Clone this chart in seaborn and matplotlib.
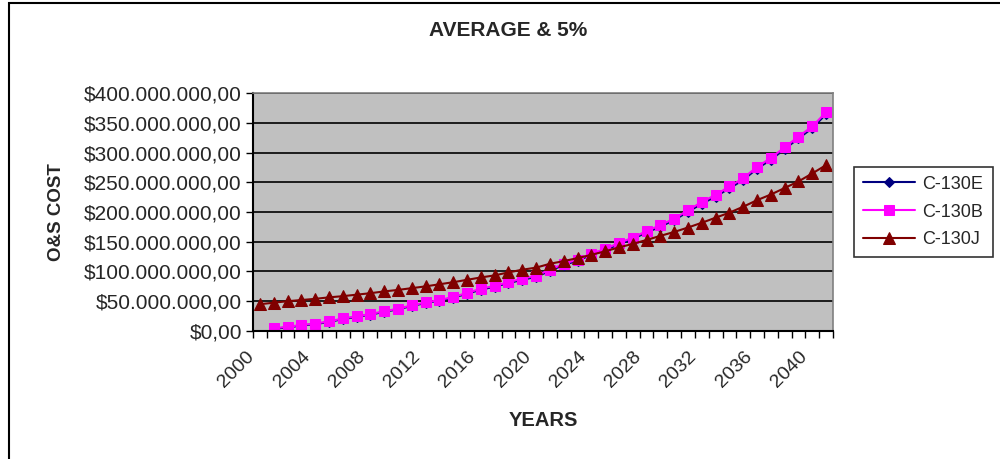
import numpy as np
import pandas as pd
import matplotlib
matplotlib.use("Agg")
import matplotlib.pyplot as plt
from matplotlib.patches import Rectangle
from matplotlib.transforms import ScaledTranslation
from matplotlib.ticker import FuncFormatter, MultipleLocator, FixedLocator
import seaborn as sns

# data (values in millions of $)
years_j = list(range(2000, 2042))
years_b = list(range(2001, 2042))

c130j = [45, 47.5, 50, 52, 54, 56.5, 58.5, 61, 63.5, 66.5, 69, 72, 75, 78.5,
         82, 86, 90, 93.5, 98.5, 103, 106.5, 113, 117.5, 122.5, 128, 134,
         140.5, 146.5, 153, 160, 166.5, 174, 182, 190.5, 199, 209, 220,
         229.5, 240.5, 251.5, 265, 279]
c130b = [4.5, 7, 10, 12.5, 16, 21, 24.5, 28.5, 33, 37.5, 43, 48, 52, 57, 64,
         71, 76, 82, 88, 93, 103, 113, 120, 130, 138, 148, 157, 168, 178, 189,
         203, 217, 229, 243, 257, 276, 291, 309, 327, 344, 368]
c130e = [3.5, 6, 9, 11.5, 15, 20, 23.5, 27.5, 32, 36.5, 42, 47, 51, 56, 62.5,
         69.5, 74.5, 80.5, 86, 91, 101, 111, 118, 128, 136, 146, 155,
         165.5, 175.5, 186.5, 200.5, 214, 226, 240, 254, 273, 288, 306, 324,
         341, 365]

series_names = ["C-130E", "C-130B", "C-130J"]
colors = {"C-130E": "#000080", "C-130B": "#FF00FF", "C-130J": "#800000"}
markers = {"C-130E": "D", "C-130B": "s", "C-130J": "^"}
sizes = {"C-130E": 5, "C-130B": 7.5, "C-130J": 9}

df = pd.concat([
    pd.DataFrame({"year": years_b, "cost": np.array(c130e) * 1e6, "series": "C-130E"}),
    pd.DataFrame({"year": years_b, "cost": np.array(c130b) * 1e6, "series": "C-130B"}),
    pd.DataFrame({"year": years_j, "cost": np.array(c130j) * 1e6, "series": "C-130J"}),
])

sns.set_style("white")
plt.rcParams["font.family"] = ["Liberation Sans", "DejaVu Sans"]

fig = plt.figure(figsize=(10, 4.59), dpi=100)
ax = fig.add_axes([0.253, 0.279, 0.580, 0.518])
ax.set_facecolor("#C0C0C0")

for name in series_names:
    sns.lineplot(data=df[df.series == name], x="year", y="cost", ax=ax,
                 color=colors[name], marker=markers[name],
                 markersize=sizes[name], markeredgecolor=colors[name],
                 linewidth=1.5, label=name)

ax.set_xlim(1999.5, 2041.5)
ax.set_ylim(0, 4e8)
ax.yaxis.set_major_locator(MultipleLocator(5e7))


def money(v, pos):
    s = "{:,.2f}".format(v)
    s = s.replace(",", "X").replace(".", ",").replace("X", ".")
    return "$" + s


ax.yaxis.set_major_formatter(FuncFormatter(money))
ax.xaxis.set_major_locator(FixedLocator(list(range(2000, 2042, 4))))
ax.xaxis.set_minor_locator(FixedLocator(list(np.arange(1999.5, 2042, 1.0))))
ax.tick_params(axis="x", which="major", length=0, labelsize=14, pad=8)
ax.tick_params(axis="x", which="minor", length=5, width=1, direction="out",
               color="black", bottom=True)
ax.tick_params(axis="y", length=5, width=1, direction="out", color="black",
               left=True, labelsize=15, pad=3)
shift = ScaledTranslation(-10 / 72, -4 / 72, fig.dpi_scale_trans)
for lab in ax.get_xticklabels():
    lab.set_rotation(45)
    lab.set_ha("right")
    lab.set_rotation_mode("anchor")
    lab.set_transform(lab.get_transform() + shift)

ax.grid(axis="y", color="black", linewidth=1.2)
ax.set_axisbelow(True)
for side in ["left", "bottom"]:
    ax.spines[side].set_color("black")
    ax.spines[side].set_linewidth(1.5)
for side in ["top", "right"]:
    ax.spines[side].set_color("#808080")
    ax.spines[side].set_linewidth(1.2)

ax.set_xlabel("YEARS", fontsize=14.5, fontweight="bold", labelpad=15)
ax.set_ylabel("O&S COST", fontsize=13.5, fontweight="bold", labelpad=14)
fig.text(0.508, 0.933, "AVERAGE & 5%", ha="center", va="center",
         fontsize=15, fontweight="bold")

handles, labels = ax.get_legend_handles_labels()
leg = ax.legend(handles, labels, loc="center left",
                bbox_to_anchor=(0.854, 0.538), bbox_transform=fig.transFigure,
                fontsize=13, frameon=True, fancybox=False, edgecolor="black",
                handlelength=2.9, handletextpad=0.4, borderpad=0.5,
                borderaxespad=0, labelspacing=0.6)
leg.get_frame().set_linewidth(1.2)

fig.patches.append(Rectangle((0.009, -0.1), 1.2, 1.1 - 3 / 459,
                             transform=fig.transFigure, fill=False,
                             edgecolor="black", linewidth=1.5))

fig.savefig("out.png", dpi=100, facecolor="white")
